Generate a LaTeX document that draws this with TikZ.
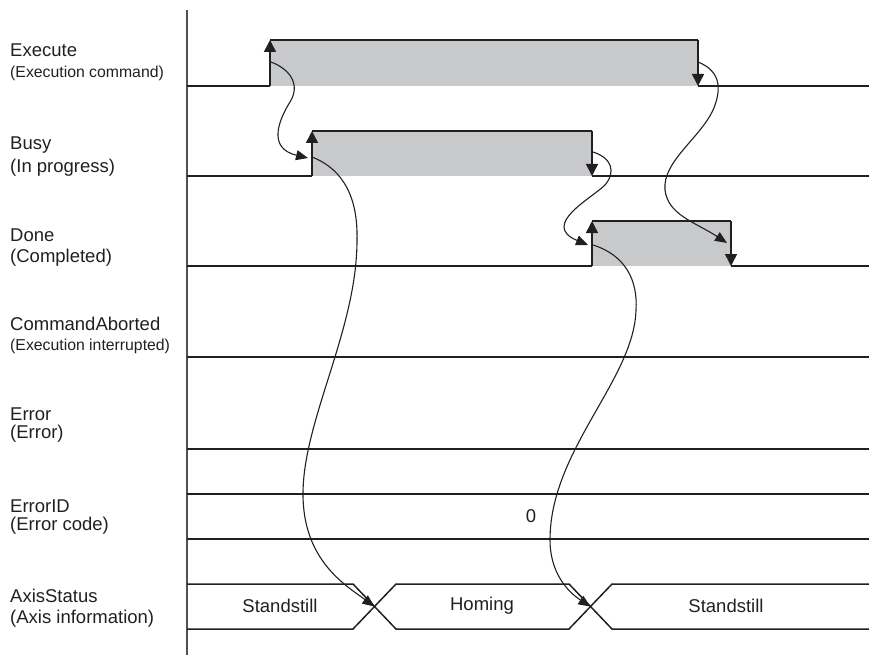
\documentclass[tikz,border=0pt]{standalone}
\usepackage{fontspec}
\setmainfont{Liberation Sans}
\usetikzlibrary{arrows.meta}
\definecolor{ink}{RGB}{35,31,32}
\definecolor{pulse}{RGB}{200,201,203}
\definecolor{axisgray}{RGB}{80,80,80}
\begin{document}
\begin{tikzpicture}[x=1pt,y=-1pt,
  wave/.style={draw=ink, line width=1.5pt},
  edgetip/.style={draw=ink, line width=1.5pt, -{Triangle[length=12pt,width=12pt]}},
  link/.style={draw=ink, line width=1.1pt, -{Triangle[length=12pt,width=10pt]}},
  sig/.style={anchor=base west, font=\fontsize{18.5}{20}\selectfont, text=ink, inner sep=0pt},
  sigsmall/.style={sig, font=\fontsize{15.8}{17}\selectfont},
  val/.style={font=\fontsize{18.5}{20}\selectfont, text=ink, inner sep=0pt}]
\useasboundingbox (0,0) rectangle (869,655);

% time axis
\draw[axisgray, line width=1.4pt] (187,10) -- (187,655);

% signal names
\node[sig]      (exeName)  at (10,57)  {Execute};
\node[sigsmall] (exeDesc)  at (10,78)  {(Execution command)};
\node[sig]      (busyName) at (10,150) {Busy};
\node[sig]      (busyDesc) at (10,172) {(In progress)};
\node[sig]      (doneName) at (10,241) {Done};
\node[sig]      (doneDesc) at (10,262) {(Completed)};
\node[sig]      (abtName)  at (10,330) {CommandAborted};
\node[sigsmall] (abtDesc)  at (10,350) {(Execution interrupted)};
\node[sig]      (errName)  at (10,420) {Error};
\node[sig]      (errDesc)  at (10,438) {(Error)};
\node[sig]      (eidName)  at (10,512) {ErrorID};
\node[sig]      (eidDesc)  at (10,530) {(Error code)};
\node[sig]      (axName)   at (10,602) {AxisStatus};
\node[sig]      (axDesc)   at (10,623) {(Axis information)};

% Execute pulse
\fill[pulse] (270,40) rectangle (698,86);
\draw[wave] (187,86) -- (270,86);
\draw[wave] (270,40) -- (698,40);
\draw[wave] (698,86) -- (869,86);
\draw[edgetip] (270,86) -- (270,40);
\draw[edgetip] (698,40) -- (698,86);

% Busy pulse
\fill[pulse] (312,131) rectangle (592,176);
\draw[wave] (187,176) -- (312,176);
\draw[wave] (312,131) -- (592,131);
\draw[wave] (592,176) -- (869,176);
\draw[edgetip] (312,176) -- (312,131);
\draw[edgetip] (592,131) -- (592,176);

% Done pulse
\fill[pulse] (592,221) rectangle (731,266);
\draw[wave] (187,266) -- (592,266);
\draw[wave] (592,221) -- (731,221);
\draw[wave] (731,266) -- (869,266);
\draw[edgetip] (592,266) -- (592,221);
\draw[edgetip] (731,221) -- (731,266);

% CommandAborted and Error stay low
\draw[wave] (187,357) -- (869,357);
\draw[wave] (187,449) -- (869,449);

% ErrorID bus
\draw[wave] (187,494) -- (869,494);
\draw[wave] (187,539) -- (869,539);
\node[val] (eidVal) at (531,516) {0};

% AxisStatus bus with two transitions
\draw[wave] (187,584) -- (353,584) -- (396,629) -- (569,629) -- (612,584) -- (869,584);
\draw[wave] (187,629) -- (353,629) -- (396,584) -- (569,584) -- (612,629) -- (869,629);
\node[val] (axS1) at (280,606) {Standstill};
\node[val] (axHm) at (482,606) {Homing};
\node[val] (axS2) at (726,606) {Standstill};

% cause-and-effect links
\coordinate (exeRise)  at (271,62);
\coordinate (exeFall)  at (698,62);
\coordinate (busyRiseIn)  at (308,158);
\coordinate (busyRiseOut) at (312,157);
\coordinate (busyFall) at (593,152);
\coordinate (doneRiseIn)  at (588,245);
\coordinate (doneRiseOut) at (593,245);
\coordinate (doneFallIn)  at (727,243);
\coordinate (cross1) at (374.5,606.5);
\coordinate (cross2) at (590.5,606.5);

\draw[link] (exeRise) .. controls (292,70) and (300,86) .. (290,102)
  .. controls (280,118) and (266,148) .. (busyRiseIn);
\draw[link] (busyRiseOut) .. controls (345,170) and (358,200) .. (357,240)
  .. controls (357,330) and (303,420) .. (303,494)
  .. controls (303,560) and (345,585) .. (cross1);
\draw[link] (exeFall) .. controls (718,70) and (722,85) .. (715,105)
  .. controls (705,135) and (662,160) .. (665,190)
  .. controls (668,215) and (695,222) .. (doneFallIn);
\draw[link] (busyFall) .. controls (612,158) and (616,172) .. (605,185)
  .. controls (592,198) and (540,225) .. (doneRiseIn);
\draw[link] (doneRiseOut) .. controls (625,255) and (638,280) .. (636,310)
  .. controls (634,380) and (550,450) .. (550,540)
  .. controls (550,570) and (565,590) .. (cross2);
\end{tikzpicture}
\end{document}
